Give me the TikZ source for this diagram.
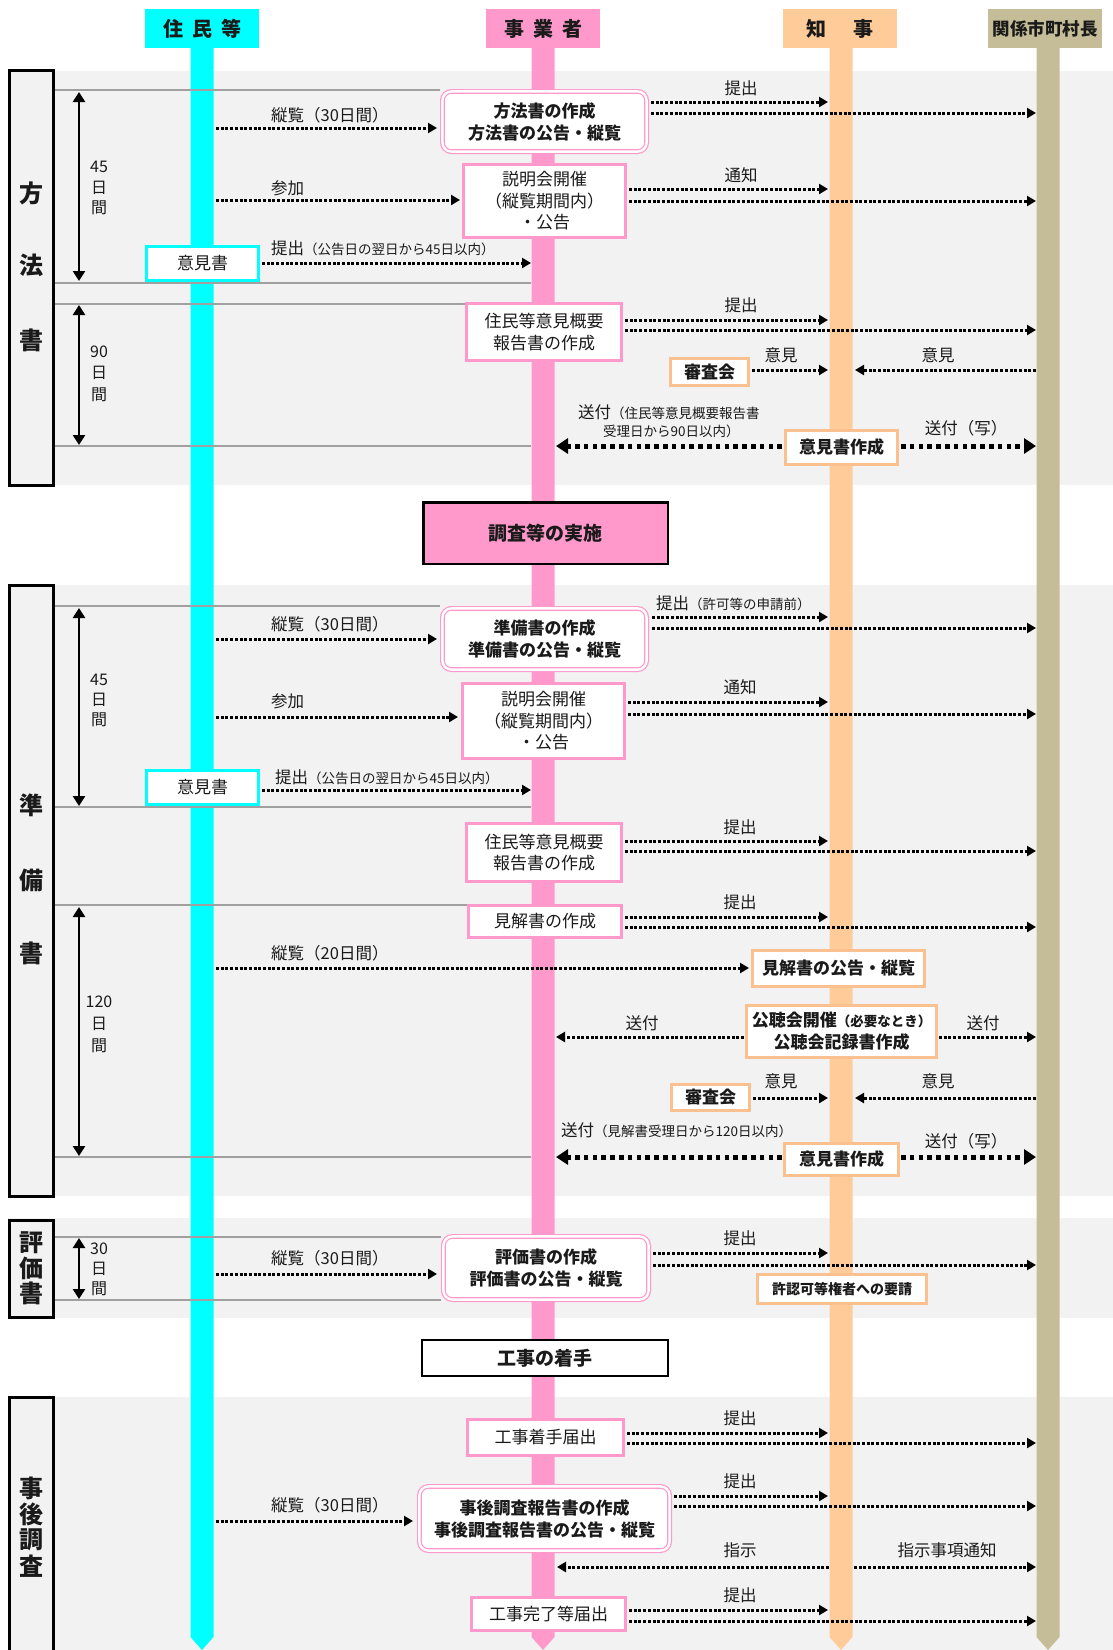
\documentclass[tikz,border=0pt]{standalone}
\usepackage{fontspec}
\setmainfont{Noto Sans CJK JP}
\usetikzlibrary{arrows.meta}
\definecolor{cyanL}{HTML}{00FFFF}
\definecolor{pinkL}{HTML}{FF99CC}
\definecolor{orgL}{HTML}{FFCC99}
\definecolor{khkL}{HTML}{C4BD97}
\definecolor{bandG}{HTML}{F2F2F2}
\definecolor{lineG}{HTML}{A0A0A0}
\definecolor{orgB}{HTML}{FBC08F}
\definecolor{txt}{HTML}{1A1A1A}
\newcommand{\smtxt}[1]{{\fontsize{13.5}{16}\selectfont #1}}
\tikzset{
  tb/.style={inner sep=0pt, text=txt},
  lbl/.style={tb, font=\fontsize{16.5}{20}\selectfont},
  daylbl/.style={tb, font=\fontsize{16}{18}\selectfont},
  hdr/.style={tb, font=\bfseries\fontsize{20}{24}\selectfont, minimum width=114pt, minimum height=39pt},
  sidebox/.style={draw=black, line width=3pt, fill=bandG, minimum width=44pt},
  sidech/.style={tb, font=\bfseries\fontsize{24}{26}\selectfont},
  pbox/.style={tb, draw=pinkL, line width=2.6pt, fill=white, align=center, font=\fontsize{17}{21.5}\selectfont},
  pdbl/.style={tb, draw=pinkL, double=white, double distance=2.4pt, line width=1.2pt, fill=white, rounded corners=9pt, align=center, font=\bfseries\fontsize{17}{22}\selectfont},
  obox/.style={tb, draw=orgB, line width=2.6pt, fill=white, align=center, font=\bfseries\fontsize{17}{22}\selectfont},
  cbox/.style={tb, draw=cyanL, line width=2.6pt, fill=white, font=\fontsize{17}{20}\selectfont, minimum width=112.4pt, minimum height=34.4pt},
  kbox/.style={tb, draw=black, line width=2.5pt, align=center, font=\bfseries\fontsize{19}{22}\selectfont},
  gline/.style={draw=lineG, line width=1.3pt},
  dotarr/.style={line width=3pt, dash pattern=on 3pt off 1.7pt, -{Triangle[length=9pt,width=10pt]}},
  thkarr/.style={line width=5pt, dash pattern=on 4.6pt off 4.2pt, -{Triangle[length=12pt,width=15pt]}},
  period/.style={line width=2.8pt, {Triangle[length=10pt,width=12pt]}-{Triangle[length=10pt,width=12pt]}},
}
\begin{document}
\begin{tikzpicture}[x=1pt,y=-1pt]
\useasboundingbox (0,0) rectangle (1113,1650);
\fill[white] (0,0) rectangle (1113,1650);
% bands
\fill[bandG] (8,71) rectangle (1113,485);
\fill[bandG] (8,585) rectangle (1113,1196);
\fill[bandG] (8,1218) rectangle (1113,1318);
\fill[bandG] (8,1397) rectangle (1113,1650);
% lanes
\foreach \c/\col in {202/cyanL,543/pinkL,841/orgL,1048/khkL}
  \fill[\col] (\c-11.5,48) -- (\c+11.5,48) -- (\c+11.5,1637) -- (\c,1650) -- (\c-11.5,1637) -- cycle;
% headers
\node[hdr, fill=cyanL] (h1) at (202,28.5) {住\hspace{9pt}民\hspace{9pt}等};
\node[hdr, fill=pinkL] (h2) at (543,28.5) {事\hspace{9pt}業\hspace{9pt}者};
\node[hdr, fill=orgL] (h3) at (839.5,28.5) {知\hspace{27pt}事};
\node[hdr, fill=khkL, font=\bfseries\fontsize{17.5}{20}\selectfont] (h4) at (1045,28.5) {関係市町村長};
% side boxes
\node[sidebox, minimum height=415pt] (s1) at (31.5,278) {};
\node[sidech] (s1a) at (31.5,193) {方};
\node[sidech] (s1b) at (31.5,265) {法};
\node[sidech] (s1c) at (31.5,340) {書};
\node[sidebox, minimum height=611pt] (s2) at (31.5,891) {};
\node[sidech] (s2a) at (31.5,805) {準};
\node[sidech] (s2b) at (31.5,880) {備};
\node[sidech] (s2c) at (31.5,953) {書};
\node[sidebox, minimum height=97pt] (s3) at (31.5,1269) {};
\node[sidech] (s3a) at (31.5,1243) {評};
\node[sidech] (s3b) at (31.5,1268) {価};
\node[sidech] (s3c) at (31.5,1293) {書};
\node[sidebox, minimum height=280pt] (s4) at (31.5,1537) {};
\node[sidech] (s4a) at (31.5,1488) {事};
\node[sidech] (s4b) at (31.5,1514) {後};
\node[sidech] (s4c) at (31.5,1540) {調};
\node[sidech] (s4d) at (31.5,1566) {査};
% gray period lines
\draw[gline] (55,90) -- (440,90);
\draw[gline] (55,283) -- (531,283);
\draw[gline] (55,304) -- (465,304);
\draw[gline] (55,446) -- (531,446);
\draw[gline] (55,606) -- (440,606);
\draw[gline] (55,807) -- (531,807);
\draw[gline] (55,905) -- (467,905);
\draw[gline] (55,1157) -- (531,1157);
\draw[gline] (55,1237) -- (441,1237);
\draw[gline] (55,1300) -- (441,1300);
% period arrows
\draw[period] (79,92) -- (79,281);
\draw[period] (79,305) -- (79,445);
\draw[period] (79,608) -- (79,806);
\draw[period] (79,907) -- (79,1156);
\draw[period] (79,1238) -- (79,1299);
\node[daylbl] (d1a) at (99,167) {45};
\node[daylbl] (d1b) at (99,188) {日};
\node[daylbl] (d1c) at (99,208) {間};
\node[daylbl] (d2a) at (99,352) {90};
\node[daylbl] (d2b) at (99,373) {日};
\node[daylbl] (d2c) at (99,395) {間};
\node[daylbl] (d3a) at (99,680) {45};
\node[daylbl] (d3b) at (99,700) {日};
\node[daylbl] (d3c) at (99,720) {間};
\node[daylbl] (d4a) at (99,1002) {120};
\node[daylbl] (d4b) at (99,1024) {日};
\node[daylbl] (d4c) at (99,1046) {間};
\node[daylbl] (d5a) at (99,1249) {30};
\node[daylbl] (d5b) at (99,1269) {日};
\node[daylbl] (d5c) at (99,1289) {間};
% ---------- arrows ----------
% band 1
\draw[dotarr] (216,128) -- (437,128);
\draw[dotarr] (216,200) -- (460,200);
\draw[dotarr] (262,263) -- (531,263);
\draw[dotarr] (651,102) -- (828,102);
\draw[dotarr] (651,113) -- (1036,113);
\draw[dotarr] (629,189) -- (828,189);
\draw[dotarr] (629,201) -- (1036,201);
\draw[dotarr] (625,320) -- (828,320);
\draw[dotarr] (625,330) -- (1036,330);
\draw[dotarr] (752,370) -- (828,370);
\draw[dotarr] (1036,370) -- (855,370);
\draw[thkarr] (782,446) -- (556,446);
\draw[thkarr] (901,446) -- (1036,446);
% band 2
\draw[dotarr] (652,617) -- (828,617);
\draw[dotarr] (652,628) -- (1036,628);
\draw[dotarr] (216,639) -- (437,639);
\draw[dotarr] (628,702) -- (828,702);
\draw[dotarr] (628,714) -- (1036,714);
\draw[dotarr] (216,717) -- (458,717);
\draw[dotarr] (262,790) -- (531,790);
\draw[dotarr] (625,841) -- (828,841);
\draw[dotarr] (625,851) -- (1036,851);
\draw[dotarr] (625,917) -- (828,917);
\draw[dotarr] (625,927) -- (1036,927);
\draw[dotarr] (216,968) -- (749,968);
\draw[dotarr] (744,1037) -- (556,1037);
\draw[dotarr] (939,1037) -- (1036,1037);
\draw[dotarr] (753,1098) -- (828,1098);
\draw[dotarr] (1036,1098) -- (855,1098);
\draw[thkarr] (782,1157) -- (556,1157);
\draw[thkarr] (901,1157) -- (1036,1157);
% band 3
\draw[dotarr] (216,1274) -- (437,1274);
\draw[dotarr] (653,1253) -- (828,1253);
\draw[dotarr] (653,1265) -- (1036,1265);
% band 4
\draw[dotarr] (627,1433) -- (828,1433);
\draw[dotarr] (627,1443) -- (1036,1443);
\draw[dotarr] (216,1521) -- (413,1521);
\draw[dotarr] (674,1496) -- (828,1496);
\draw[dotarr] (674,1506) -- (1036,1506);
\draw[dotarr] (829,1567) -- (557,1567);
\draw[dotarr] (854,1567) -- (1036,1567);
\draw[dotarr] (629,1610) -- (828,1610);
\draw[dotarr] (629,1621) -- (1036,1621);
% ---------- boxes ----------
\node[pdbl, minimum width=204.2pt, minimum height=60.2pt] (b1) at (544.5,121.5) {方法書の作成\\方法書の公告・縦覧};
\node[pbox, minimum width=162.4pt, minimum height=73.4pt] (b2) at (544.5,201) {説明会開催\\（縦覧期間内）\\・公告};
\node[cbox] (c1) at (202.5,263.5) {意見書};
\node[pbox, minimum width=155.4pt, minimum height=57.4pt] (b3) at (544,332) {住民等意見概要\\報告書の作成};
\node[obox, minimum width=78.4pt, minimum height=27.4pt] (o1) at (709.5,372) {審査会};
\node[obox, minimum width=112.4pt, minimum height=34.4pt] (o2) at (841.5,447.5) {意見書作成};
\node[kbox, fill=pinkL, minimum width=244.5pt, minimum height=61.5pt] (k1) at (545.5,533) {調査等の実施};
\node[pdbl, minimum width=204.2pt, minimum height=61.2pt] (b4) at (544.5,639) {準備書の作成\\準備書の公告・縦覧};
\node[pbox, minimum width=162.4pt, minimum height=75.4pt] (b5) at (543.5,721) {説明会開催\\（縦覧期間内）\\・公告};
\node[cbox] (c2) at (202.5,787.5) {意見書};
\node[pbox, minimum width=155.4pt, minimum height=58.4pt] (b6) at (544,852.5) {住民等意見概要\\報告書の作成};
\node[pbox, minimum width=153.4pt, minimum height=32.4pt] (b7) at (545,921.5) {見解書の作成};
\node[obox, minimum width=172.4pt, minimum height=36.4pt] (o3) at (838.5,968.5) {見解書の公告・縦覧};
\node[obox, minimum width=190.4pt, minimum height=52.4pt] (o4) at (841.5,1031.5) {公聴会開催{\fontsize{13.5}{16}\selectfont （必要なとき）}\\公聴会記録書作成};
\node[obox, minimum width=78.4pt, minimum height=26.4pt] (o5) at (710.5,1097.5) {審査会};
\node[obox, minimum width=114.4pt, minimum height=32.4pt] (o6) at (841.5,1159.5) {意見書作成};
\node[pdbl, minimum width=205.2pt, minimum height=63.2pt] (b8) at (546,1268) {評価書の作成\\評価書の公告・縦覧};
\node[obox, minimum width=169.4pt, minimum height=29.4pt, font=\bfseries\fontsize{14}{17}\selectfont] (o7) at (842,1289) {許認可等権者への要請};
\node[kbox, fill=white, line width=2pt, minimum width=246pt, minimum height=36pt] (k2) at (545,1358) {工事の着手};
\node[pbox, minimum width=156.4pt, minimum height=36.4pt] (b9) at (545.5,1437.5) {工事着手届出};
\node[pdbl, minimum width=250.2pt, minimum height=64.2pt] (b10) at (544.5,1518.5) {事後調査報告書の作成\\事後調査報告書の公告・縦覧};
\node[pbox, minimum width=154.4pt, minimum height=33.4pt] (b11) at (548.5,1614) {工事完了等届出};
% ---------- labels ----------
\node[lbl, anchor=west] (l1) at (271,115) {縦覧（30日間）};
\node[lbl, anchor=west] (l2) at (271,188) {参加};
\node[lbl, anchor=west] (l3) at (271,248) {提出\smtxt{（公告日の翌日から45日以内）}};
\node[lbl] (l4) at (741,88) {提出};
\node[lbl] (l5) at (741,175) {通知};
\node[lbl] (l6) at (741,305) {提出};
\node[lbl] (l7) at (781,355) {意見};
\node[lbl] (l8) at (938,355) {意見};
\node[lbl, anchor=west] (l9) at (578,412) {送付\smtxt{（住民等意見概要報告書}};
\node[lbl, anchor=west] (l10) at (603,431) {\smtxt{受理日から90日以内）}};
\node[lbl] (l11) at (966,428) {送付（写）};
\node[lbl, anchor=west] (l12) at (271,624) {縦覧（30日間）};
\node[lbl, anchor=west] (l13) at (656,603) {提出\smtxt{（許可等の申請前）}};
\node[lbl] (l14) at (740,687) {通知};
\node[lbl, anchor=west] (l15) at (271,701) {参加};
\node[lbl, anchor=west] (l16) at (275,777) {提出\smtxt{（公告日の翌日から45日以内）}};
\node[lbl] (l17) at (740,827) {提出};
\node[lbl] (l18) at (740,902) {提出};
\node[lbl, anchor=west] (l19) at (271,953) {縦覧（20日間）};
\node[lbl] (l20) at (642,1023) {送付};
\node[lbl] (l21) at (983,1023) {送付};
\node[lbl] (l22) at (781,1081) {意見};
\node[lbl] (l23) at (938,1081) {意見};
\node[lbl, anchor=west] (l24) at (561,1130) {送付\smtxt{（見解書受理日から120日以内）}};
\node[lbl] (l25) at (966,1141) {送付（写）};
\node[lbl, anchor=west] (l26) at (271,1258) {縦覧（30日間）};
\node[lbl] (l27) at (740,1238) {提出};
\node[lbl] (l28) at (740,1418) {提出};
\node[lbl, anchor=west] (l29) at (271,1505) {縦覧（30日間）};
\node[lbl] (l30) at (740,1481) {提出};
\node[lbl] (l31) at (740,1550) {指示};
\node[lbl] (l32) at (947,1550) {指示事項通知};
\node[lbl] (l33) at (740,1595) {提出};
\end{tikzpicture}
\end{document}
